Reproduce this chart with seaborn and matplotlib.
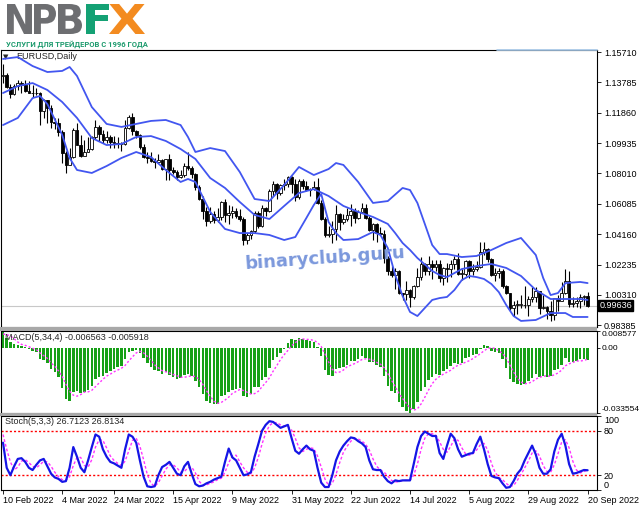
import numpy as np
import matplotlib
matplotlib.use("Agg")
import matplotlib.pyplot as plt
import matplotlib.transforms as mtransforms
from matplotlib.lines import Line2D
from matplotlib.patches import Rectangle, PathPatch
from matplotlib.textpath import TextPath
from matplotlib.font_manager import FontProperties
import seaborn as sns

# EURUSD daily bars, 10 Feb 2022 .. 20 Sep 2022
opens = [
    1.1422, 1.1425, 1.1349, 1.1306, 1.1357, 1.1373, 1.1360, 1.1322, 1.1310, 1.1308,
    1.1308, 1.1195, 1.1268, 1.1219, 1.1125, 1.1120, 1.1065, 1.0930, 1.0855, 1.0905,
    1.1075, 1.0982, 1.0912, 1.0940, 1.0955, 1.1035, 1.1095, 1.1050, 1.1015, 1.1030,
    1.1003, 1.0997, 1.0985, 1.0985, 1.1089, 1.1158, 1.1067, 1.1045, 1.0970, 1.0905,
    1.0900, 1.0880, 1.0875, 1.0885, 1.0830, 1.0890, 1.0825, 1.0810, 1.0780, 1.0790,
    1.0850, 1.0835, 1.0795, 1.0715, 1.0640, 1.0560, 1.0500, 1.0545, 1.0505, 1.0525,
    1.0620, 1.0540, 1.0550, 1.0560, 1.0530, 1.0515, 1.0380, 1.0410, 1.0435, 1.0550,
    1.0465, 1.0585, 1.0560, 1.0690, 1.0735, 1.0680, 1.0725, 1.0735, 1.0780, 1.0735,
    1.0650, 1.0750, 1.0720, 1.0695, 1.0705, 1.0715, 1.0615, 1.0515, 1.0410, 1.0415,
    1.0450, 1.0545, 1.0495, 1.0510, 1.0535, 1.0565, 1.0520, 1.0555, 1.0585, 1.0520,
    1.0445, 1.0480, 1.0425, 1.0420, 1.0265, 1.0185, 1.0160, 1.0185, 1.0040, 1.0035,
    1.0060, 1.0020, 1.0085, 1.0145, 1.0225, 1.0180, 1.0230, 1.0210, 1.0225, 1.0135,
    1.0200, 1.0195, 1.0225, 1.0260, 1.0165, 1.0165, 1.0245, 1.0180, 1.0195, 1.0210,
    1.0300, 1.0320, 1.0260, 1.0160, 1.0170, 1.0180, 1.0090, 1.0040, 0.9945, 0.9970,
    0.9970, 0.9970, 0.9965, 1.0005, 1.0015, 1.0055, 0.9945, 0.9955, 0.9930, 0.9905,
    1.0010, 0.9995, 1.0040, 1.0120, 0.9975, 0.9980, 0.9995, 1.0015, 1.0025,
]
highs = [
    1.1495, 1.1438, 1.1370, 1.1365, 1.1395, 1.1385, 1.1395, 1.1390, 1.1359, 1.1345,
    1.1317, 1.1273, 1.1268, 1.1234, 1.1150, 1.1151, 1.1074, 1.0945, 1.0965, 1.1090,
    1.1122, 1.1042, 1.1015, 1.1035, 1.1040, 1.1137, 1.1110, 1.1075, 1.1069, 1.1045,
    1.1037, 1.1035, 1.1000, 1.1137, 1.1170, 1.1185, 1.1076, 1.1053, 1.0990, 1.0940,
    1.0937, 1.0900, 1.0925, 1.0895, 1.0895, 1.0924, 1.0840, 1.0825, 1.0820, 1.0866,
    1.0936, 1.0850, 1.0805, 1.0725, 1.0655, 1.0590, 1.0590, 1.0560, 1.0580, 1.0625,
    1.0642, 1.0600, 1.0594, 1.0580, 1.0577, 1.0525, 1.0425, 1.0445, 1.0560, 1.0565,
    1.0600, 1.0590, 1.0700, 1.0750, 1.0740, 1.0735, 1.0765, 1.0785, 1.0787, 1.0765,
    1.0765, 1.0765, 1.0750, 1.0710, 1.0750, 1.0775, 1.0630, 1.0525, 1.0470, 1.0500,
    1.0600, 1.0550, 1.0545, 1.0580, 1.0605, 1.0580, 1.0570, 1.0615, 1.0605, 1.0530,
    1.0485, 1.0485, 1.0463, 1.0440, 1.0275, 1.0215, 1.0200, 1.0190, 1.0045, 1.0122,
    1.0070, 1.0095, 1.0200, 1.0270, 1.0235, 1.0278, 1.0255, 1.0255, 1.0250, 1.0210,
    1.0235, 1.0255, 1.0275, 1.0295, 1.0195, 1.0255, 1.0250, 1.0225, 1.0245, 1.0365,
    1.0368, 1.0330, 1.0265, 1.0200, 1.0200, 1.0195, 1.0095, 1.0045, 0.9990, 0.9999,
    1.0030, 1.0090, 1.0025, 1.0080, 1.0080, 1.0055, 1.0030, 0.9960, 0.9990, 1.0010,
    1.0030, 1.0115, 1.0198, 1.0185, 1.0020, 1.0017, 1.0035, 1.0030, 1.0050,
]
lows = [
    1.1374, 1.1340, 1.1280, 1.1300, 1.1333, 1.1314, 1.1316, 1.1308, 1.1288, 1.1298,
    1.1106, 1.1150, 1.1121, 1.1089, 1.1086, 1.1040, 1.0870, 1.0806, 1.0855, 1.0900,
    1.0985, 1.0906, 1.0920, 1.0937, 1.0950, 1.1020, 1.1005, 1.0995, 1.0995, 1.0962,
    1.0965, 1.0965, 1.0945, 1.0980, 1.1085, 1.1045, 1.1028, 1.0957, 1.0897, 1.0870,
    1.0873, 1.0836, 1.0865, 1.0822, 1.0757, 1.0757, 1.0800, 1.0760, 1.0770, 1.0780,
    1.0825, 1.0770, 1.0695, 1.0635, 1.0515, 1.0470, 1.0490, 1.0490, 1.0495, 1.0505,
    1.0493, 1.0483, 1.0520, 1.0516, 1.0500, 1.0350, 1.0355, 1.0388, 1.0425, 1.0457,
    1.0460, 1.0530, 1.0555, 1.0660, 1.0640, 1.0665, 1.0695, 1.0715, 1.0680, 1.0627,
    1.0640, 1.0705, 1.0690, 1.0655, 1.0695, 1.0610, 1.0505, 1.0400, 1.0397, 1.0360,
    1.0380, 1.0445, 1.0480, 1.0500, 1.0470, 1.0490, 1.0510, 1.0550, 1.0510, 1.0435,
    1.0380, 1.0365, 1.0410, 1.0235, 1.0160, 1.0145, 1.0070, 1.0035, 0.9998, 0.9998,
    0.9952, 1.0005, 1.0080, 1.0125, 1.0155, 1.0155, 1.0130, 1.0180, 1.0110, 1.0095,
    1.0115, 1.0145, 1.0195, 1.0160, 1.0125, 1.0150, 1.0140, 1.0160, 1.0185, 1.0200,
    1.0285, 1.0240, 1.0150, 1.0120, 1.0140, 1.0075, 1.0035, 0.9926, 0.9900, 0.9910,
    0.9945, 0.9950, 0.9900, 0.9985, 0.9985, 0.9910, 0.9940, 0.9877, 0.9864, 0.9875,
    0.9930, 0.9990, 1.0035, 0.9955, 0.9955, 0.9955, 0.9945, 0.9965, 0.9955,
]
closes = [
    1.1425, 1.1349, 1.1306, 1.1357, 1.1373, 1.1360, 1.1322, 1.1310, 1.1308, 1.1308,
    1.1195, 1.1268, 1.1219, 1.1125, 1.1120, 1.1065, 1.0930, 1.0855, 1.0905, 1.1075,
    1.0982, 1.0912, 1.0940, 1.0955, 1.1035, 1.1095, 1.1050, 1.1015, 1.1030, 1.1003,
    1.0997, 1.0985, 1.0985, 1.1089, 1.1158, 1.1067, 1.1045, 1.0970, 1.0905, 1.0900,
    1.0880, 1.0875, 1.0885, 1.0830, 1.0890, 1.0825, 1.0810, 1.0780, 1.0790, 1.0850,
    1.0835, 1.0795, 1.0715, 1.0640, 1.0560, 1.0500, 1.0545, 1.0505, 1.0525, 1.0620,
    1.0540, 1.0550, 1.0560, 1.0530, 1.0515, 1.0380, 1.0410, 1.0435, 1.0550, 1.0465,
    1.0585, 1.0560, 1.0690, 1.0735, 1.0680, 1.0725, 1.0735, 1.0780, 1.0735, 1.0650,
    1.0750, 1.0720, 1.0695, 1.0705, 1.0715, 1.0615, 1.0515, 1.0410, 1.0415, 1.0450,
    1.0545, 1.0495, 1.0510, 1.0535, 1.0565, 1.0520, 1.0555, 1.0585, 1.0520, 1.0445,
    1.0480, 1.0425, 1.0420, 1.0265, 1.0185, 1.0160, 1.0185, 1.0040, 1.0035, 1.0060,
    1.0020, 1.0085, 1.0145, 1.0225, 1.0180, 1.0230, 1.0210, 1.0225, 1.0135, 1.0200,
    1.0195, 1.0225, 1.0260, 1.0165, 1.0165, 1.0245, 1.0180, 1.0195, 1.0210, 1.0300,
    1.0320, 1.0260, 1.0160, 1.0170, 1.0180, 1.0090, 1.0040, 0.9945, 0.9970, 0.9970,
    0.9970, 0.9965, 1.0005, 1.0015, 1.0055, 0.9945, 0.9955, 0.9930, 0.9905, 1.0010,
    0.9995, 1.0040, 1.0120, 0.9975, 0.9980, 0.9995, 1.0015, 1.0025, 0.99636,
]

# Bollinger bands (20, 2)
bb_up_idx = [0, 4, 8, 12, 16, 18, 20, 24, 28, 32, 36, 40, 44, 48, 50, 52, 56, 60, 64, 68,
             72, 76, 80, 84, 88, 90, 92, 96, 100, 104, 108, 110, 112, 114, 116, 118, 120,
             124, 128, 132, 136, 140, 144, 146, 148, 150, 152, 156, 158]
bb_up = [1.1527, 1.1539, 1.1482, 1.1444, 1.1451, 1.1476, 1.1419, 1.1222, 1.1115, 1.1096,
         1.1115, 1.1134, 1.1140, 1.1108, 1.1032, 1.0937, 1.0962, 1.0943, 1.0810, 1.0639,
         1.0626, 1.0728, 1.0842, 1.0791, 1.0829, 1.0867, 1.0855, 1.0747, 1.0614, 1.0626,
         1.0709, 1.0696, 1.0614, 1.0481, 1.0347, 1.0290, 1.0290, 1.0271, 1.0278, 1.0316,
         1.0360, 1.0392, 1.0284, 1.0138, 1.0030, 1.0043, 1.0106, 1.0113, 1.0106]
bb_mid_idx = [0, 4, 8, 12, 16, 20, 24, 28, 32, 36, 40, 44, 48, 52, 56, 60, 64, 68, 72, 76,
              80, 84, 88, 92, 96, 100, 104, 106, 108, 110, 112, 116, 118, 120, 124, 128,
              132, 136, 140, 144, 148, 152, 156, 158]
bb_mid = [1.1311, 1.1355, 1.1374, 1.1330, 1.1254, 1.1153, 1.1026, 1.0981, 1.0988, 1.1032,
          1.1038, 1.1007, 1.0956, 1.0893, 1.0772, 1.0709, 1.0620, 1.0538, 1.0512, 1.0595,
          1.0677, 1.0702, 1.0658, 1.0595, 1.0557, 1.0525, 1.0481, 1.0423, 1.0360, 1.0316,
          1.0265, 1.0183, 1.0157, 1.0144, 1.0195, 1.0214, 1.0227, 1.0202, 1.0151, 1.0062,
          1.0005, 1.0005, 1.0005, 0.9999]
bb_low_idx = [0, 4, 8, 10, 12, 16, 18, 20, 24, 28, 32, 36, 40, 44, 48, 50, 52, 56, 60, 64,
              68, 72, 76, 79, 82, 84, 86, 88, 90, 92, 96, 100, 102, 104, 106, 108, 110, 112,
              114, 116, 118, 120, 122, 124, 126, 128, 130, 132, 134, 136, 138, 140, 144,
              148, 152, 154, 158]
bb_low = [1.1108, 1.1153, 1.1279, 1.1292, 1.1241, 1.1045, 1.0899, 1.0823, 1.0804, 1.0848,
          1.0899, 1.0937, 1.0905, 1.0823, 1.0747, 1.0766, 1.0747, 1.0557, 1.0449, 1.0423,
          1.0423, 1.0411, 1.0379, 1.0398, 1.0519, 1.0601, 1.0671, 1.0493, 1.0423, 1.0379,
          1.0385, 1.0430, 1.0411, 1.0328, 1.0157, 1.0024, 0.9923, 0.9897, 0.9948, 0.9999,
          1.0011, 1.0018, 1.0062, 1.0125, 1.0151, 1.0144, 1.0132, 1.0100, 1.0049, 0.9967,
          0.9897, 0.9866, 0.9872, 0.9916, 0.9916, 0.9891, 0.9891]

# MACD(5,34,4): main (histogram) and signal (dotted)
macd_main = [
    0.0086, 0.0052, 0.0028, 0.0020, 0.0016, 0.0010, 0.0002, -0.0008, -0.0016, -0.0024,
    -0.0060, -0.0062, -0.0080, -0.0110, -0.0125, -0.0150, -0.0205, -0.0265, -0.0275, -0.0230,
    -0.0225, -0.0235, -0.0228, -0.0218, -0.0195, -0.0160, -0.0150, -0.0145, -0.0130, -0.0120,
    -0.0110, -0.0100, -0.0092, -0.0060, -0.0020, -0.0015, -0.0012, -0.0025, -0.0055, -0.0080,
    -0.0100, -0.0115, -0.0120, -0.0135, -0.0125, -0.0140, -0.0150, -0.0160, -0.0158, -0.0140,
    -0.0135, -0.0145, -0.0170, -0.0200, -0.0240, -0.0275, -0.0285, -0.0290, -0.0290, -0.0250,
    -0.0245, -0.0230, -0.0215, -0.0210, -0.0205, -0.0250, -0.0255, -0.0240, -0.0200, -0.0200,
    -0.0165, -0.0150, -0.0105, -0.0065, -0.0050, -0.0025, -0.0005, 0.0025, 0.0045, 0.0040,
    0.0050, 0.0045, 0.0038, 0.0035, 0.0030, 0.0005, -0.0045, -0.0115, -0.0140, -0.0145,
    -0.0110, -0.0105, -0.0098, -0.0088, -0.0070, -0.0070, -0.0060, -0.0045, -0.0055, -0.0075,
    -0.0075, -0.0090, -0.0100, -0.0145, -0.0195, -0.0225, -0.0235, -0.0280, -0.0305, -0.0325,
    -0.0335, -0.0315, -0.0280, -0.0225, -0.0200, -0.0165, -0.0150, -0.0135, -0.0140, -0.0120,
    -0.0110, -0.0095, -0.0080, -0.0085, -0.0080, -0.0055, -0.0050, -0.0040, -0.0030, -0.0005,
    0.0012, 0.0008, -0.0015, -0.0020, -0.0025, -0.0060, -0.0105, -0.0160, -0.0175, -0.0185,
    -0.0190, -0.0185, -0.0170, -0.0155, -0.0135, -0.0150, -0.0145, -0.0150, -0.0145, -0.0115,
    -0.0110, -0.0090, -0.0055, -0.0075, -0.0075, -0.0068, -0.0060, -0.0058, -0.006563,
]
macd_signal = [
    0.0070, 0.0068, 0.0060, 0.0046, 0.0029, 0.0017, 0.0012, 0.0005, -0.0003, -0.0009,
    -0.0027, -0.0041, -0.0055, -0.0078, -0.0096, -0.0119, -0.0148, -0.0186, -0.0224, -0.0244,
    -0.0249, -0.0241, -0.0228, -0.0227, -0.0219, -0.0200, -0.0181, -0.0163, -0.0146, -0.0136,
    -0.0124, -0.0115, -0.0106, -0.0091, -0.0068, -0.0047, -0.0027, -0.0018, -0.0027, -0.0044,
    -0.0065, -0.0088, -0.0104, -0.0118, -0.0124, -0.0130, -0.0138, -0.0144, -0.0152, -0.0152,
    -0.0148, -0.0145, -0.0148, -0.0163, -0.0189, -0.0221, -0.0250, -0.0275, -0.0286, -0.0281,
    -0.0269, -0.0254, -0.0235, -0.0225, -0.0215, -0.0220, -0.0229, -0.0238, -0.0236, -0.0224,
    -0.0201, -0.0179, -0.0155, -0.0121, -0.0092, -0.0061, -0.0036, -0.0014, 0.0010, 0.0026,
    0.0040, 0.0045, 0.0043, 0.0042, 0.0037, 0.0027, 0.0006, -0.0031, -0.0074, -0.0111,
    -0.0128, -0.0125, -0.0115, -0.0098, -0.0090, -0.0082, -0.0072, -0.0061, -0.0057, -0.0059,
    -0.0064, -0.0076, -0.0085, -0.0103, -0.0133, -0.0166, -0.0200, -0.0234, -0.0261, -0.0286,
    -0.0311, -0.0321, -0.0314, -0.0289, -0.0255, -0.0218, -0.0185, -0.0162, -0.0148, -0.0136,
    -0.0126, -0.0116, -0.0101, -0.0090, -0.0083, -0.0075, -0.0067, -0.0056, -0.0044, -0.0031,
    -0.0016, -0.0004, 0.0000, -0.0004, -0.0015, -0.0030, -0.0053, -0.0088, -0.0125, -0.0156,
    -0.0177, -0.0185, -0.0183, -0.0175, -0.0161, -0.0153, -0.0146, -0.0145, -0.0147, -0.0139,
    -0.0130, -0.0115, -0.0093, -0.0083, -0.0076, -0.0068, -0.0069, -0.0065, -0.005918,
]

# Stochastic(5,3,3): %K (solid) and %D (dashed)
stoch_k = [
    64, 30, 20, 32, 42, 43, 38, 30, 27, 34, 40, 42, 32, 22, 17, 15, 11, 12, 30, 58,
    45, 30, 24, 40, 58, 75, 72, 55, 45, 38, 36, 33, 30, 55, 75, 72, 64, 40, 18, 5,
    4, 5, 20, 31, 34, 38, 30, 22, 20, 32, 38, 22, 8, 5, 6, 9, 11, 14, 16, 18,
    38, 56, 44, 40, 30, 20, 21, 24, 45, 62, 80, 88, 93, 92, 88, 84, 86, 88, 70, 53,
    49, 55, 60, 55, 53, 30, 10, 4, 4, 20, 40, 52, 60, 66, 71, 70, 66, 63, 58, 40,
    28, 27, 27, 18, 12, 9, 13, 12, 13, 13, 13, 35, 58, 73, 79, 76, 73, 73, 50, 42,
    60, 76, 70, 55, 45, 47, 49, 50, 62, 72, 55, 35, 19, 17, 16, 9, 3, 4, 12, 22,
    28, 40, 50, 60, 48, 30, 22, 22, 28, 52, 68, 76, 60, 35, 22, 23, 25, 27, 26.7123,
]
stoch_d = [
    75, 55, 38, 27, 31, 39, 41, 37, 32, 30, 34, 39, 38, 32, 24, 18, 14, 13, 18, 33,
    44, 44, 33, 31, 41, 58, 68, 67, 57, 46, 40, 36, 33, 39, 53, 67, 70, 59, 41, 21,
    9, 5, 10, 19, 28, 34, 34, 30, 24, 25, 30, 31, 23, 12, 6, 7, 9, 11, 14, 16,
    24, 37, 46, 47, 38, 30, 24, 22, 30, 44, 62, 77, 87, 91, 91, 88, 86, 86, 81, 70,
    57, 52, 55, 57, 56, 46, 31, 15, 6, 9, 21, 37, 51, 59, 66, 69, 69, 66, 62, 54,
    42, 32, 27, 24, 19, 13, 11, 11, 13, 13, 13, 20, 35, 55, 70, 76, 76, 74, 65, 55,
    51, 59, 69, 67, 57, 49, 47, 49, 54, 61, 63, 54, 36, 24, 17, 14, 9, 5, 6, 13,
    21, 30, 39, 50, 53, 46, 33, 25, 24, 34, 49, 65, 68, 57, 39, 27, 23, 25, 26.8134,
]

date_pos = [0, 16, 30, 46, 62, 78, 94, 110, 126, 142, 158]
date_labels = ["10 Feb 2022", "4 Mar 2022", "24 Mar 2022", "15 Apr 2022", "9 May 2022",
               "31 May 2022", "22 Jun 2022", "14 Jul 2022", "5 Aug 2022", "29 Aug 2022",
               "20 Sep 2022"]
price_ticks = [1.15710, 1.13785, 1.11860, 1.09935, 1.08010, 1.06085, 1.04160, 1.02235,
               1.00310, 0.98385]
last_price = 0.99636

BAND = "#4256f0"
GREEN = "#16a016"
MAGENTA = "#ff33ff"

sns.set_theme(style="white")
plt.rcParams["font.family"] = ["Liberation Sans", "DejaVu Sans"]

W, H = 639, 508
fig = plt.figure(figsize=(W / 100, H / 100), dpi=100, facecolor="white")


def px_axes(x0, y0, x1, y1):
    return fig.add_axes([x0 / W, 1 - y1 / H, (x1 - x0) / W, (y1 - y0) / H])


ax = px_axes(1, 50, 597, 327)
ax_m = px_axes(1, 331, 597, 413)
ax_s = px_axes(1, 416, 597, 490)

idx = np.arange(len(closes))
o = np.array(opens)
c = np.array(closes)
h = np.array(highs)
l = np.array(lows)
bull = c >= o

# --- main price panel ---
ax.axhline(last_price, color="#c8c8c8", linewidth=0.8, zorder=1)
ax.vlines(idx, l, h, color="black", linewidth=0.8, zorder=2)
body_bot = np.minimum(o, c)
body_h = np.maximum(np.abs(c - o), 0.00025)
ax.bar(idx[bull], body_h[bull], bottom=body_bot[bull], width=0.72, color="white",
       edgecolor="black", linewidth=0.6, zorder=3)
ax.bar(idx[~bull], body_h[~bull], bottom=body_bot[~bull], width=0.72, color="black",
       edgecolor="black", linewidth=0.6, zorder=3)

for bx, by in [(bb_up_idx, bb_up), (bb_mid_idx, bb_mid), (bb_low_idx, bb_low)]:
    sns.lineplot(x=bx, y=by, ax=ax, color=BAND, linewidth=1.3, zorder=4)

ax.set_xlim(-0.54, 160.54)
ax.set_ylim(0.98275, 1.15837)
ax.set_yticks(price_ticks)
ax.set_yticklabels([f"{p:.5f}" for p in price_ticks])
ax.text(0.004, 0.975, "\u25bc", transform=ax.transAxes, fontsize=5, ha="left",
        va="center", family="DejaVu Sans")
ax.text(0.025, 0.975, "EURUSD,Daily", transform=ax.transAxes, fontsize=6.5,
        ha="left", va="center")
trans = mtransforms.blended_transform_factory(ax.transAxes, ax.transData)
ax.text(1.004, last_price, "0.99636", transform=trans, fontsize=6.5, color="white",
        ha="left", va="center",
        bbox=dict(facecolor="black", edgecolor="black", pad=1.0))

# --- MACD panel ---
ax_m.bar(idx, macd_main, width=0.7, color=GREEN, linewidth=0, zorder=2)
ax_m.plot(idx, macd_signal, color=MAGENTA, linewidth=1.0, linestyle=(0, (1.5, 1.5)), zorder=3)
ax_m.set_xlim(-0.54, 160.54)
ax_m.set_ylim(-0.033554, 0.008577)
ax_m.set_yticks([0.008577, 0.0, -0.033554])
ax_m.set_yticklabels(["0.008577", "0.00", "-0.033554"])
ax_m.text(0.006, 0.925, "MACD(5,34,4) -0.006563 -0.005918", transform=ax_m.transAxes,
          fontsize=6.5, ha="left", va="center")

# --- Stochastic panel ---
ax_s.axhline(80, color="#ff0000", linewidth=1.0, linestyle=(0, (1.5, 1.5)), zorder=1)
ax_s.axhline(20, color="#ff0000", linewidth=1.0, linestyle=(0, (1.5, 1.5)), zorder=1)
ax_s.plot(idx, stoch_d, color=MAGENTA, linewidth=1.0, linestyle=(0, (2, 1.5)), zorder=2)
sns.lineplot(x=idx, y=stoch_k, ax=ax_s, color="#1515e6", linewidth=1.6, zorder=3)
ax_s.set_xlim(-0.54, 160.54)
ax_s.set_ylim(0, 100)
ax_s.set_yticks([100, 80, 20, 0])
ax_s.set_yticklabels(["100", "80", "20", "0"])
ax_s.text(0.006, 0.93, "Stoch(5,3,3) 26.7123 26.8134", transform=ax_s.transAxes,
          fontsize=6.5, ha="left", va="center")
ax_s.set_xticks(date_pos)
ax_s.set_xticklabels(date_labels)
for lbl in ax_s.get_xticklabels():
    lbl.set_ha("left")

for a in (ax, ax_m, ax_s):
    a.yaxis.tick_right()
    a.tick_params(axis="y", right=True, left=False, direction="out", length=3,
                  width=0.6, labelsize=6.5, pad=2, colors="black")
    a.set_xlabel("")
    a.set_ylabel("")
    for sp in a.spines.values():
        sp.set_color("black")
        sp.set_linewidth(0.8)
    a.set_facecolor("white")
for a in (ax, ax_m):
    a.set_xticks([])

# the long MACD labels need to fit in the right margin
ax_m.tick_params(axis="y", labelsize=6.0, pad=0.5, length=2.5)

ax_s.tick_params(axis="x", bottom=True, direction="out", length=3, width=0.6,
                 labelsize=6.5, pad=1, colors="black")

for a in (ax_m, ax_s):
    tl = a.get_yticklabels()
    tl[0].set_va("top")
    tl[-1].set_va("bottom")

# separators between panels
for y0, y1 in [(327, 331), (413, 416)]:
    fig.patches.append(Rectangle((0, 1 - y1 / H), 597 / W, (y1 - y0) / H,
                                 transform=fig.transFigure, facecolor="#a8a8a8",
                                 edgecolor="none", zorder=0))
fig.lines.append(Line2D([497 / W, 597 / W], [1 - 49.5 / H] * 2, color="#a6c8e8",
                        linewidth=1.2, transform=fig.transFigure))

# watermark
fig.text(325 / W, 1 - 258 / H, "binaryclub.guru", rotation=4, fontsize=13,
         weight="bold", color="#7b98dc", ha="center", va="center", family="DejaVu Sans")

# logo: heavy letters squeezed into the boxes they take in the picture
logo_letters = ["N", "P", "B", "F", "X"]
logo_boxes = [(7, 32), (34, 56), (58, 82), (86, 109), (109, 145)]
logo_colors = ["#6d6e71", "#6d6e71", "#6d6e71", "#14a174", "#f38b20"]
logo_font = FontProperties(family="DejaVu Sans", weight="bold")
for ch, (x0, x1), lc in zip(logo_letters, logo_boxes, logo_colors):
    tp = TextPath((0, 0), ch, size=100, prop=logo_font)
    ext = tp.get_extents()
    tr = (mtransforms.Affine2D()
          .translate(-ext.x0, -ext.y0)
          .scale((x1 - x0) / ext.width, (34 - 4) / ext.height)
          .translate(x0, H - 34))
    fig.add_artist(PathPatch(tr.transform_path(tp), transform=mtransforms.IdentityTransform(),
                             facecolor=lc, edgecolor="none"))
fig.text(77 / W, 1 - 44 / H, "УСЛУГИ ДЛЯ ТРЕЙДЕРОВ С 1996 ГОДА", fontsize=5.5,
         weight="bold", color="#1e9b6e", ha="center", va="center",
         family=["Roboto", "Liberation Sans", "DejaVu Sans"])

fig.savefig("out.png", dpi=100, facecolor="white")
